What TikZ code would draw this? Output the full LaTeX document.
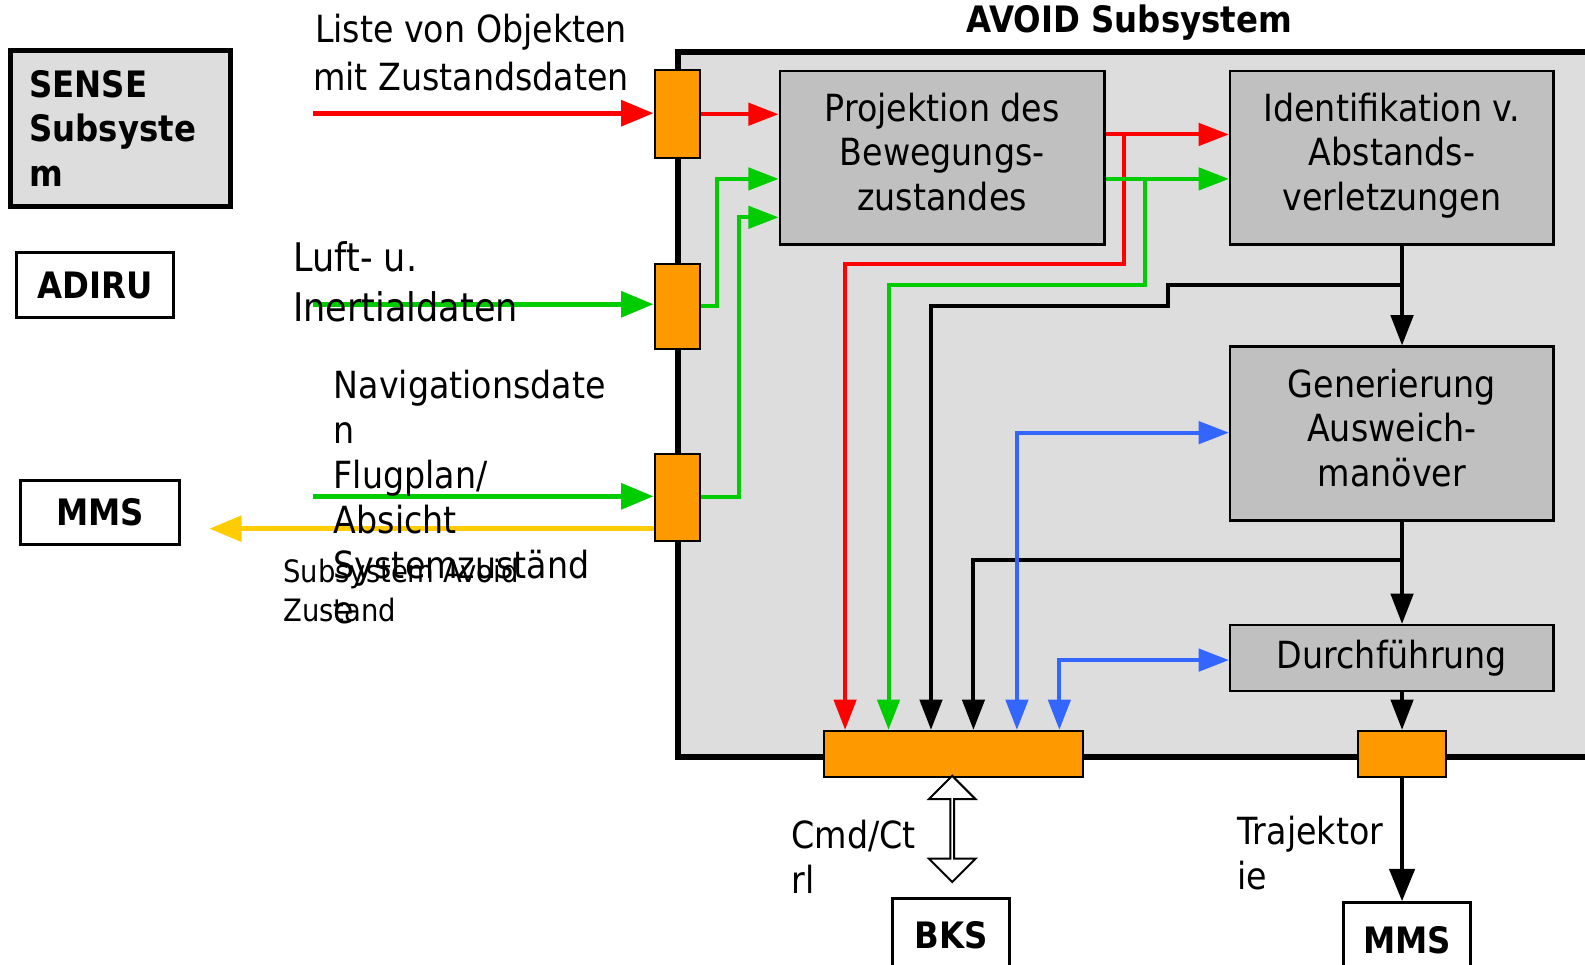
\documentclass[tikz,border=0pt]{standalone}
\usepackage{fontspec}
\setmainfont{DejaVu Sans}[FakeStretch=0.89]
\usetikzlibrary{arrows.meta, shapes.arrows}
\definecolor{avoidgray}{RGB}{221,221,221}
\definecolor{boxgray}{RGB}{192,192,192}
\definecolor{portorange}{RGB}{255,153,0}
\definecolor{sigred}{RGB}{255,0,0}
\definecolor{siggreen}{RGB}{0,204,0}
\definecolor{sigyellow}{RGB}{255,204,0}
\definecolor{sigblue}{RGB}{51,102,255}

\begin{document}
\begin{tikzpicture}[x=1pt, y=-1pt,
  procbox/.style={draw, line width=2.5pt, fill=boxgray, align=center, inner sep=0pt,
    font=\fontsize{37}{44}\selectfont},
  threeline/.style={text height=119pt, text depth=15pt},
  port/.style={draw, line width=2pt, fill=portorange, inner sep=0pt},
  extbox/.style={draw, line width=3pt, fill=white, inner sep=0pt,
    font=\bfseries\fontsize{36}{44}\selectfont},
  lbl/.style={anchor=west, align=left, inner sep=0pt, font=\fontsize{37}{44.5}\selectfont},
  extline/.style={line width=5pt, -{Triangle[length=32pt,width=25pt]}},
  intline/.style={line width=4pt, -{Triangle[length=30pt,width=22pt]}},
  bothline/.style={line width=4pt, {Triangle[length=30pt,width=22pt]}-{Triangle[length=30pt,width=22pt]}}]
  \useasboundingbox (0,0) rectangle (1568,954);

  % AVOID subsystem frame
  \node[draw, line width=6pt, fill=avoidgray, inner sep=0pt, anchor=north west,
    minimum width=1060pt, minimum height=698pt] (avoid) at (668,48) {};
  \node[font=\bfseries\fontsize{36}{40}\selectfont] (avoidTitle) at (1117,22) {AVOID Subsystem};

  % outside systems
  \node[draw, line width=5pt, fill=avoidgray, inner sep=0pt, minimum width=218pt, minimum height=155pt,
    text width=180pt, align=left, font=\bfseries\fontsize{36}{44}\selectfont] (sense) at (119,127) {SENSE\\Subsyste\\m};
  \node[extbox, minimum width=156pt, minimum height=64pt] (adiru) at (94,282) {ADIRU};
  \node[extbox, minimum width=158pt, minimum height=63pt] (mmsL) at (99,507) {MMS};
  \node[extbox, minimum width=116pt, minimum height=72pt] (bks) at (941,925) {BKS};
  \node[extbox, minimum width=125pt, minimum height=74pt] (mmsR) at (1392,930) {MMS};

  % function blocks
  \node[procbox, threeline, minimum width=321pt, minimum height=172pt] (projektion) at (932,156)
    {Projektion des\\Bewegungs-\\zustandes};
  \node[procbox, threeline, minimum width=320pt, minimum height=172pt] (identifikation) at (1377,156)
    {Identifikation v.\\Abstands-\\verletzungen};
  \node[procbox, threeline, minimum width=320pt, minimum height=172pt] (generierung) at (1377,429)
    {Generierung\\Ausweich-\\manöver};
  \node[procbox, minimum width=320pt, minimum height=65pt] (durchfuehrung) at (1377,651)
    {Durchführung};

  % ports
  \node[port, minimum width=45pt, minimum height=87pt] (portA) at (670,113) {};
  \node[port, minimum width=45pt, minimum height=84pt] (portB) at (670,303) {};
  \node[port, minimum width=45pt, minimum height=86pt] (portC) at (670,492) {};
  \node[port, minimum width=256pt, minimum height=46pt] (portD) at (943,746) {};
  \node[port, minimum width=87pt, minimum height=46pt] (portE) at (1387,746) {};

  % bend points
  \coordinate (listeStart) at (310,112);
  \coordinate (luftStart) at (310,301);
  \coordinate (navStart) at (310,491);
  \coordinate (zustandEnd) at (207,523);
  \coordinate (greenInA) at (709,177);
  \coordinate (greenInB) at (731,215);
  \coordinate (redTap) at (1112,133);
  \coordinate (redBend) at (836,261);
  \coordinate (greenTap) at (1133,177);
  \coordinate (greenBend) at (879,282);
  \coordinate (blackTapA) at (1387,282);
  \coordinate (blackStep) at (1155,282);
  \coordinate (blackBendA) at (921,303);
  \coordinate (blackTapB) at (1387,554);
  \coordinate (blackBendB) at (963,554);
  \coordinate (blueBendA) at (1006,428);
  \coordinate (blueBendB) at (1048,653);

  % inputs
  \draw[extline, sigred] (listeStart) -- (listeStart -| portA.west);
  \draw[extline, siggreen] (luftStart) -- (luftStart -| portB.west);
  \draw[extline, siggreen] (navStart) -- (navStart -| portC.west);
  \draw[extline, sigyellow] (zustandEnd -| portC.west) -- (zustandEnd);
  \draw[intline, sigred] (portA.east) -- (portA.east -| projektion.west);
  \draw[intline, siggreen] (portB.east) -| (greenInA) -- (greenInA -| projektion.west);
  \draw[intline, siggreen] (portC.east) -| (greenInB) -- (greenInB -| projektion.west);

  % projektion outputs
  \draw[intline, sigred] (redTap -| projektion.east) -- (redTap -| identifikation.west);
  \draw[intline, sigred] (redTap) |- (redBend) -- (redBend |- portD.north);
  \draw[intline, siggreen] (greenTap -| projektion.east) -- (greenTap -| identifikation.west);
  \draw[intline, siggreen] (greenTap) |- (greenBend) -- (greenBend |- portD.north);

  % black chain
  \draw[intline] (blackTapA |- identifikation.south) -- (blackTapA |- generierung.north);
  \draw[intline] (blackTapA) -- (blackStep) |- (blackBendA) -- (blackBendA |- portD.north);
  \draw[intline] (blackTapB |- generierung.south) -- (blackTapB |- durchfuehrung.north);
  \draw[intline] (blackTapB) -- (blackBendB) -- (blackBendB |- portD.north);
  \draw[intline] (portE.north |- durchfuehrung.south) -- (portE.north);
  \draw[extline, line width=4pt] (portE.south) -- (portE.south |- mmsR.north);

  % blue links
  \draw[bothline, sigblue] (blueBendA |- portD.north) -- (blueBendA) -- (blueBendA -| generierung.west);
  \draw[bothline, sigblue] (blueBendB |- portD.north) -- (blueBendB) -- (blueBendB -| durchfuehrung.west);

  % Cmd/Ctrl link
  \node[double arrow, draw, line width=2pt, fill=white, rotate=90, inner sep=0pt,
    minimum height=105pt, minimum width=46pt, double arrow head extend=11pt] (cmdArrow) at (942,820) {};

  % labels
  \node[lbl, anchor=center, align=center, font=\fontsize{37}{47}\selectfont] (listeLbl) at (466,52)
    {Liste von Objekten\\mit Zustandsdaten};
  \node[lbl, font=\fontsize{39}{49}\selectfont] (luftLbl) at (290,279) {Luft- u.\\Inertialdaten};
  \node[lbl] (navLbl) at (330,492) {Navigationsdate\\n\\Flugplan/\\Absicht\\Systemzuständ\\e};
  \node[lbl, font=\fontsize{30.5}{38}\selectfont] (zustandLbl) at (280,584) {Subsystem Avoid\\Zustand};
  \node[lbl] (cmdLbl) at (783,848) {Cmd/Ct\\rl};
  \node[lbl] (trajLbl) at (1224,844) {Trajektor\\ie};
\end{tikzpicture}
\end{document}
